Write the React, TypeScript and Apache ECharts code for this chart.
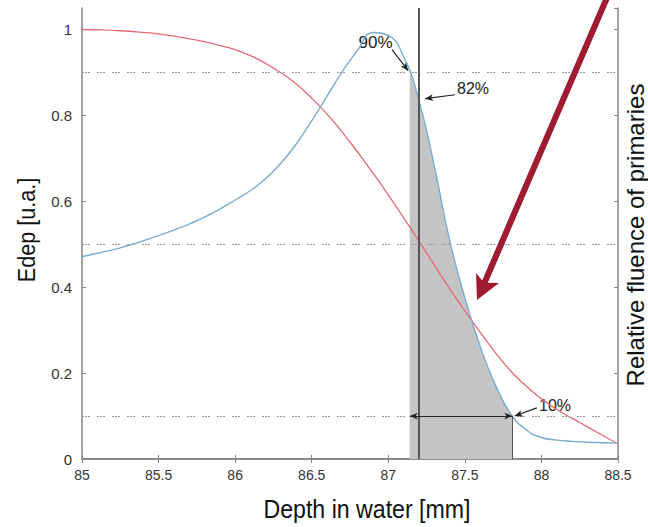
import React, { useEffect, useRef } from "react";
import * as echarts from "echarts";

// Depth values (mm) and relative dose (Edep) of the Bragg curve
const blueDepth = [85.0, 85.1, 85.2, 85.3, 85.4, 85.5, 85.6, 85.7, 85.8, 85.9, 86.0, 86.1, 86.2, 86.3, 86.4, 86.5, 86.6, 86.7, 86.8, 86.9, 87.0, 87.1, 87.2, 87.3, 87.4, 87.5, 87.6, 87.7, 87.8, 87.9, 88.0, 88.1, 88.2, 88.3, 88.4, 88.5];
const blueEdep = [0.471, 0.479, 0.487, 0.497, 0.508, 0.52, 0.533, 0.547, 0.563, 0.582, 0.603, 0.625, 0.653, 0.689, 0.734, 0.787, 0.845, 0.902, 0.952, 0.993, 0.986, 0.937, 0.835, 0.683, 0.51, 0.375, 0.262, 0.172, 0.105, 0.068, 0.05, 0.044, 0.041, 0.039, 0.038, 0.037];

// Relative fluence of primaries
const redDepth = [85.0, 85.125, 85.25, 85.375, 85.5, 85.625, 85.75, 85.875, 86.0, 86.125, 86.25, 86.375, 86.5, 86.625, 86.75, 86.875, 87.0, 87.125, 87.25, 87.375, 87.5, 87.625, 87.75, 87.875, 88.0, 88.125, 88.25, 88.375, 88.5];
const redFluence = [1.0, 0.999, 0.997, 0.994, 0.99, 0.983, 0.975, 0.965, 0.953, 0.935, 0.91, 0.88, 0.84, 0.793, 0.738, 0.678, 0.615, 0.548, 0.48, 0.41, 0.345, 0.283, 0.225, 0.178, 0.14, 0.11, 0.085, 0.06, 0.035];

// Reference levels and markers
const dashedLevels = [0.9, 0.5, 0.1];
const d90 = 87.14;
const d10 = 87.81;
const depth82 = 87.2;
const xTicks = ["85", "85.5", "86", "86.5", "87", "87.5", "88", "88.5"];
const yTicks = ["0", "0.2", "0.4", "0.6", "0.8", "1"];

const SANS = "'Liberation Sans', Arial, sans-serif";

export default function App() {
  const ref = useRef<HTMLDivElement>(null);
  useEffect(() => {
    if (!ref.current) return;
    const chart = echarts.init(ref.current, undefined, { renderer: "svg" });
    const blue = blueDepth.map((d, i) => [d, blueEdep[i]]);
    const red = redDepth.map((d, i) => [d, redFluence[i]]);
    const fill = [[d90, 0.9], ...blue.filter((p) => p[0] > d90 && p[0] < d10), [d10, 0.1]];
    const axisColor = "#858585";
    const xMin = parseFloat(xTicks[0]);
    const xMax = parseFloat(xTicks[xTicks.length - 1]);
    const yLabel = (v: number) => {
      const k = v / 0.2;
      if (Math.abs(k - Math.round(k)) > 1e-6 || v > 1.0001) return "";
      const s = String(+v.toFixed(1));
      return yTicks.includes(s) ? s : "";
    };
    const arrowLine = (a: number[], b: number[]) => [{ coord: a }, { coord: b }];
    const SMOOTH = 0.5;
    chart.setOption({
      animation: false,
      backgroundColor: "#ffffff",
      grid: { left: 82, right: 30, top: 8, bottom: 68 },
      xAxis: [
        {
          type: "value", min: xMin, max: xMax, interval: 0.5,
          axisLine: { lineStyle: { color: axisColor, width: 1.5 } },
          axisTick: { inside: true, length: 4, lineStyle: { color: axisColor } },
          axisLabel: { color: "#333", fontSize: 14, fontFamily: SANS, margin: 9 },
          splitLine: { show: false },
        },
        {
          type: "value", min: xMin, max: xMax, interval: 0.5, position: "top",
          axisLine: { show: true, lineStyle: { color: axisColor, width: 1.5 } },
          axisTick: { show: true, inside: true, length: 4, lineStyle: { color: axisColor } },
          axisLabel: { show: false }, splitLine: { show: false },
        },
      ],
      yAxis: [
        {
          type: "value", min: 0, max: 1.05, interval: 0.2,
          axisLine: { show: true, lineStyle: { color: axisColor, width: 1.5 } },
          axisTick: { show: true, inside: true, length: 4, lineStyle: { color: axisColor } },
          axisLabel: { color: "#333", fontSize: 15, fontFamily: SANS, margin: 10, formatter: yLabel, showMaxLabel: false },
          splitLine: { show: false },
        },
        {
          type: "value", min: 0, max: 1.05, interval: 0.2, position: "right",
          axisLine: { show: true, lineStyle: { color: axisColor, width: 1.5 } },
          axisTick: { show: true, inside: true, length: 4, lineStyle: { color: axisColor } },
          axisLabel: { show: false }, splitLine: { show: false },
        },
      ],
      series: [
        {
          type: "line", data: fill, smooth: SMOOTH, symbol: "none",
          lineStyle: { width: 0 }, areaStyle: { color: "#c4c4c4", opacity: 1 }, z: 1,
        },
        {
          type: "line", data: red, smooth: SMOOTH, symbol: "none",
          lineStyle: { color: "#e36a74", width: 1.3 }, z: 3,
        },
        {
          type: "line", data: blue, smooth: SMOOTH, symbol: "none",
          lineStyle: { color: "#79acd2", width: 1.4 }, z: 4,
        },
        {
          type: "line", data: [], z: 5,
          markLine: {
            silent: true, symbol: ["none", "none"], label: { show: false },
            data: [
              ...dashedLevels.map((v) => ({ yAxis: v, lineStyle: { color: "#999", width: 1, type: [2, 1, 2, 1, 2, 7] } })),
              { xAxis: depth82, lineStyle: { color: "#555", width: 2, type: "solid" } },
              [{ coord: [d10, 0], lineStyle: { color: "#555", width: 1, type: "solid" } }, { coord: [d10, 0.1] }],
            ],
          },
        },
        {
          type: "line", data: [], z: 6,
          markLine: {
            silent: true, symbol: ["arrow", "arrow"], symbolSize: [5, 8], label: { show: false },
            lineStyle: { color: "#222", width: 1.2, type: "solid" },
            data: [arrowLine([d90, 0.1], [d10, 0.1])],
          },
        },
        {
          type: "line", data: [], z: 6,
          markLine: {
            silent: true, symbol: ["none", "arrow"], symbolSize: [5, 8], label: { show: false },
            lineStyle: { color: "#222", width: 1.2, type: "solid" },
            data: [
              arrowLine([87.024, 0.953], [87.13, 0.904]),
              arrowLine([87.436, 0.848], [87.24, 0.839]),
              arrowLine([87.97, 0.119], [87.825, 0.1]),
            ],
          },
        },
      ],
      graphic: [
        { type: "text", x: 367, y: 509, scaleX: 0.89, style: { text: "Depth in water [mm]", font: `26px ${SANS}`, fill: "#111", textAlign: "center", textVerticalAlign: "middle" } },
        { type: "text", x: 27, y: 230, rotation: Math.PI / 2, scaleX: 0.9, style: { text: "Edep [u.a.]", font: `24px ${SANS}`, fill: "#111", textAlign: "center", textVerticalAlign: "middle" } },
        { type: "text", x: 635, y: 235, rotation: Math.PI / 2, style: { text: "Relative fluence of primaries", font: `24px ${SANS}`, fill: "#111", textAlign: "center", textVerticalAlign: "middle" } },
        { type: "text", x: 375.5, y: 42, style: { text: "90%", font: `17px ${SANS}`, fill: "#222", textAlign: "center", textVerticalAlign: "middle" } },
        { type: "text", x: 473, y: 88.5, style: { text: "82%", font: `16px ${SANS}`, fill: "#222", textAlign: "center", textVerticalAlign: "middle" } },
        { type: "text", x: 555, y: 405, style: { text: "10%", font: `16px ${SANS}`, fill: "#222", textAlign: "center", textVerticalAlign: "middle" } },
        { type: "text", x: 443, y: 397, style: { text: "d", font: `23px ${SANS}`, fill: "#222", textAlign: "left", textVerticalAlign: "middle" } },
        { type: "text", x: 457, y: 404, scaleX: 0.9, style: { text: "90-10", font: `12px ${SANS}`, fill: "#222", textAlign: "left", textVerticalAlign: "middle" } },
        {
          type: "polygon", z: 100,
          shape: { points: [[477, 300], [499, 283], [487.8, 282.8], [610.2, -2.1], [604.6, -4.5], [482.2, 280.4], [476, 273]] },
          style: { fill: "#9e1b32" },
        },
      ],
    });
    return () => chart.dispose();
  }, []);
  return <div ref={ref} style={{ position: "fixed", left: 0, top: 0, width: 648, height: 527, background: "#fff" }} />;
}
